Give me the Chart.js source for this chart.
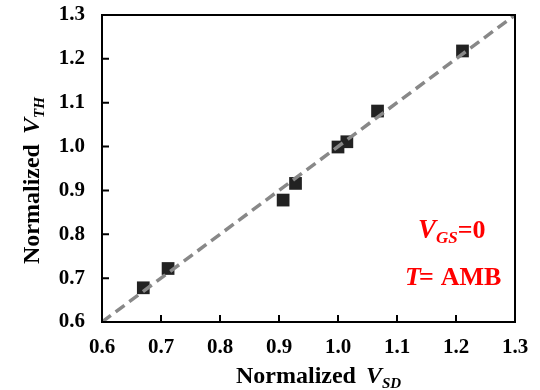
<!DOCTYPE html>
<html>
<head>
<meta charset="utf-8">
<script src="https://cdn.jsdelivr.net/npm/chart.js@4"></script>
<style>
  body { margin: 0; background: #fff; }
  canvas { display: block; }
</style>
</head>
<body>
<canvas id="scatterChart" width="540" height="390"></canvas>
<script>
const vsd = [0.670, 0.712, 0.907, 0.928, 1.000, 1.015, 1.067, 1.211];
const vth = [0.678, 0.722, 0.878, 0.916, 0.999, 1.011, 1.081, 1.218];
const fitLine = [0.6, 1.3];
const tickValues = [0.6, 0.7, 0.8, 0.9, 1.0, 1.1, 1.2, 1.3];

const serif = "'Liberation Serif', 'Times New Roman', serif";

// writes "Normalized V_xx" style text, main part, italic V and italic subscript
function drawLabel(ctx, parts, x, y) {
  let cx = x;
  parts.forEach((p) => {
    ctx.font = p.font;
    ctx.fillText(p.text, cx, y + (p.dy || 0));
    cx += ctx.measureText(p.text).width + (p.gap || 0);
  });
}

const framePlugin = {
  id: "frame",
  afterDraw(chart) {
    const { ctx, chartArea, scales } = chart;
    const { left, right, top, bottom } = chartArea;
    ctx.save();
    ctx.strokeStyle = "#000";
    ctx.lineWidth = 2;
    ctx.strokeRect(left, top, right - left, bottom - top);

    // inward ticks on left and bottom
    ctx.beginPath();
    tickValues.slice(1, -1).forEach((v) => {
      const px = scales.x.getPixelForValue(v);
      ctx.moveTo(px, bottom);
      ctx.lineTo(px, bottom - 7);
      const py = scales.y.getPixelForValue(v);
      ctx.moveTo(left, py);
      ctx.lineTo(left + 7, py);
    });
    ctx.stroke();

    // axis titles
    ctx.fillStyle = "#000";
    ctx.textBaseline = "alphabetic";
    ctx.textAlign = "left";
    drawLabel(ctx, [
      { text: "Normalized", font: "bold 24px " + serif, gap: 10 },
      { text: "V", font: "italic bold 24px " + serif },
      { text: "SD", font: "italic bold 15px " + serif, dy: 5 },
    ], 236, 383);

    ctx.save();
    ctx.translate(39, 264);
    ctx.rotate(-Math.PI / 2);
    drawLabel(ctx, [
      { text: "Normalized", font: "bold 24px " + serif, gap: 10 },
      { text: "V", font: "italic bold 24px " + serif },
      { text: "TH", font: "italic bold 15px " + serif, dy: 5 },
    ], 0, 0);
    ctx.restore();

    // red annotation
    ctx.fillStyle = "#ff0000";
    drawLabel(ctx, [
      { text: "V", font: "italic bold 27px " + serif },
      { text: "GS", font: "italic bold 17px " + serif, dy: 5 },
      { text: "=0", font: "bold 26px " + serif },
    ], 418, 238);
    drawLabel(ctx, [
      { text: "T", font: "italic bold 26px " + serif, gap: -2 },
      { text: "=", font: "bold 26px " + serif, gap: 7 },
      { text: "AMB", font: "bold 26px " + serif },
    ], 405, 285);
    ctx.restore();
  },
};

const tickFont = { family: serif, size: 21, weight: "bold" };

new Chart(document.getElementById("scatterChart"), {
  type: "scatter",
  data: {
    datasets: [
      {
        label: "fit",
        type: "line",
        data: fitLine.map((v) => ({ x: v, y: v })),
        borderColor: "#888888",
        borderWidth: 3.5,
        borderDash: [11, 6],
        pointRadius: 0,
        fill: false,
        order: 0,
      },
      {
        label: "data",
        data: vsd.map((v, i) => ({ x: v, y: vth[i] })),
        pointStyle: "rect",
        pointRadius: 9,
        backgroundColor: "#222222",
        borderColor: "#222222",
        borderWidth: 0,
        order: 1,
      },
    ],
  },
  options: {
    responsive: false,
    animation: false,
    layout: { padding: { top: 15, right: 25, left: 0, bottom: 0 } },
    plugins: { legend: { display: false }, tooltip: { enabled: false } },
    scales: {
      x: {
        type: "linear",
        min: 0.6,
        max: 1.3,
        afterBuildTicks: (s) => { s.ticks = tickValues.map((v) => ({ value: v })); },
        afterFit: (s) => {
          s.height = 68;
          s.paddingLeft = 0;
          s.paddingRight = 0;
        },
        grid: { display: false, drawTicks: false },
        border: { display: false },
        ticks: {
          color: "#000",
          font: tickFont,
          padding: 13,
          maxRotation: 0,
          callback: (v) => v.toFixed(1),
        },
      },
      y: {
        type: "linear",
        min: 0.6,
        max: 1.3,
        afterBuildTicks: (s) => { s.ticks = tickValues.map((v) => ({ value: v })); },
        afterFit: (s) => {
          s.width = 102;
          s.paddingTop = 0;
          s.paddingBottom = 0;
        },
        grid: { display: false, drawTicks: false },
        border: { display: false },
        ticks: {
          color: "#000",
          font: tickFont,
          padding: 17,
          callback: (v) => v.toFixed(1),
        },
      },
    },
  },
  plugins: [framePlugin],
});
</script>
</body>
</html>
